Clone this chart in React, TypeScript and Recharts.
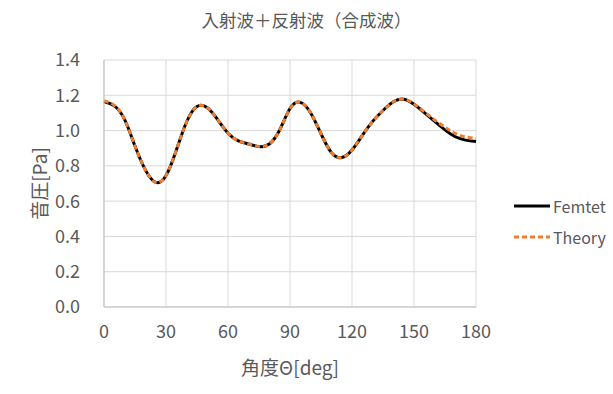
import React from 'react';
import { LineChart, Line, XAxis, YAxis, CartesianGrid } from 'recharts';

const angles = [0, 5, 10, 15, 20, 25, 30, 35, 40, 45, 50, 55, 60, 65, 70, 75, 80, 85, 90, 95, 100, 105, 110, 115, 120, 125, 130, 135, 140, 145, 150, 155, 160, 165, 170, 175, 180];
const femtet = [1.165, 1.14, 1.062, 0.912, 0.777, 0.706, 0.745, 0.889, 1.05, 1.136, 1.129, 1.062, 0.985, 0.942, 0.924, 0.909, 0.924, 1.003, 1.125, 1.16, 1.1, 0.982, 0.876, 0.847, 0.89, 0.973, 1.052, 1.114, 1.163, 1.178, 1.149, 1.102, 1.052, 1.004, 0.965, 0.946, 0.938];
const theory = [1.17, 1.142, 1.063, 0.912, 0.777, 0.706, 0.745, 0.889, 1.05, 1.136, 1.129, 1.062, 0.985, 0.942, 0.924, 0.909, 0.924, 1.003, 1.125, 1.16, 1.1, 0.982, 0.876, 0.847, 0.89, 0.973, 1.052, 1.114, 1.163, 1.178, 1.151, 1.106, 1.06, 1.019, 0.984, 0.964, 0.955];
const xTicks = [0, 30, 60, 90, 120, 150, 180];
const yTicks = [0, 0.2, 0.4, 0.6, 0.8, 1.0, 1.2, 1.4];
const seriesNames = ['Femtet', 'Theory'];
const title = '入射波＋反射波（合成波）';
const xTitle = '角度Θ[deg]';
const yTitle = '音圧[Pa]';

const data = angles.map((a, i) => ({ angle: a, Femtet: femtet[i], Theory: theory[i] }));

const textColor = '#595959';
const font = '"Noto Sans CJK JP", "Noto Sans", sans-serif';

export default function App() {
  return (
    <div style={{ position: 'absolute', left: 0, top: 0, width: 613, height: 394, background: '#fff' }}>
      <div style={{ position: 'absolute', left: 0, top: 6, width: 613, textAlign: 'center', fontFamily: font, fontSize: 17.5, color: textColor, lineHeight: '28px' }}>{title}</div>
      <div style={{ position: 'absolute', left: 513, top: 190, fontFamily: font, fontSize: 16, color: textColor }}>
        <div style={{ display: 'flex', alignItems: 'center', height: 31 }}>
          <svg width={38} height={10}><line x1={1} y1={5} x2={37} y2={5} stroke="#000" strokeWidth={3} /></svg>
          <span style={{ marginLeft: 2 }}>{seriesNames[0]}</span>
        </div>
        <div style={{ display: 'flex', alignItems: 'center', height: 31 }}>
          <svg width={38} height={10}><line x1={1} y1={5} x2={37} y2={5} stroke="#ED7D31" strokeWidth={3} strokeDasharray="5 3" /></svg>
          <span style={{ marginLeft: 2 }}>{seriesNames[1]}</span>
        </div>
      </div>
      <LineChart width={613} height={394} data={data} margin={{ top: 60, right: 137, bottom: 57, left: 44 }} style={{ position: 'absolute', left: 0, top: 0 }}>
        <CartesianGrid stroke="#d9d9d9" strokeWidth={1} />
        <XAxis
          dataKey="angle"
          type="number"
          domain={[0, 180]}
          ticks={xTicks}
          height={30}
          tickLine={false}
          tickMargin={12}
          axisLine={{ stroke: '#bfbfbf' }}
          tick={{ fill: textColor, fontSize: 18, fontFamily: font }}
          label={{ value: xTitle, position: 'center', dy: 46, fill: textColor, fontSize: 19, fontFamily: font }}
        />
        <YAxis
          type="number"
          domain={[0, 1.4]}
          ticks={yTicks}
          width={60}
          tickLine={false}
          tickMargin={18}
          axisLine={{ stroke: '#bfbfbf' }}
          tickFormatter={(v: number) => v.toFixed(1)}
          tick={{ fill: textColor, fontSize: 18, fontFamily: font }}
          label={{ value: yTitle, angle: -90, position: 'center', dx: -34, fill: textColor, fontSize: 19, fontFamily: font }}
        />
        <Line type="natural" dataKey="Femtet" stroke="#000000" strokeWidth={3} dot={false} isAnimationActive={false} />
        <Line type="natural" dataKey="Theory" stroke="#ED7D31" strokeWidth={3} strokeDasharray="5 3" dot={false} isAnimationActive={false} />
      </LineChart>
    </div>
  );
}
